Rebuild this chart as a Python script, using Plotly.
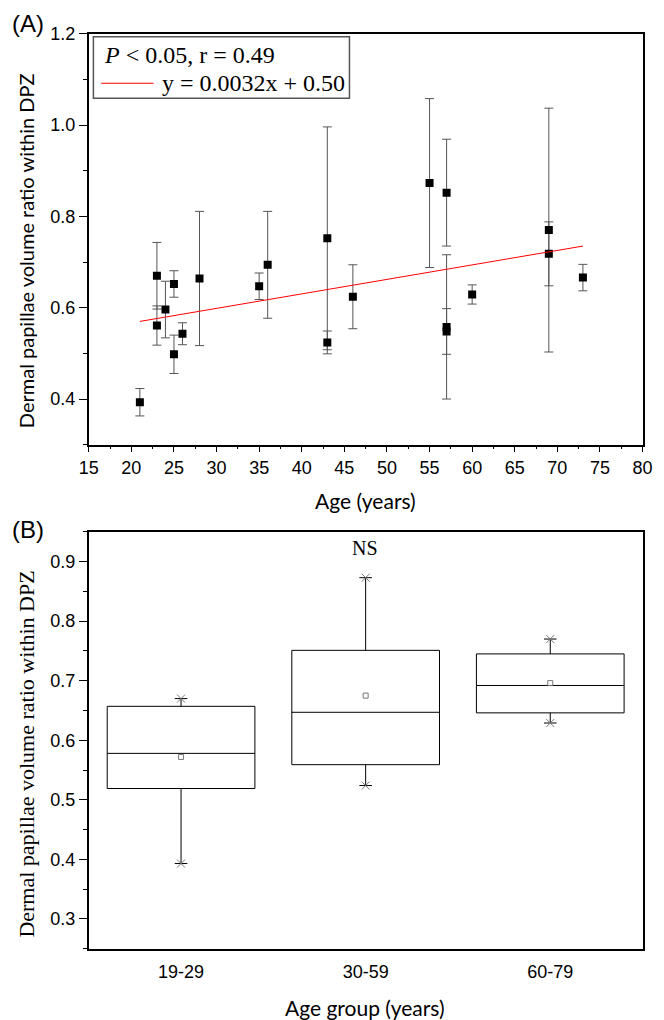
import plotly.graph_objects as go

# ---------------- Data ----------------
ages = [21, 23, 23, 24, 25, 25, 26, 28, 35, 36, 43, 43, 46, 55, 57, 57, 57, 60, 69, 69, 73]
ratios = [0.393, 0.670, 0.561, 0.596, 0.652, 0.498, 0.543, 0.664, 0.647, 0.694,
          0.752, 0.524, 0.624, 0.873, 0.852, 0.558, 0.548, 0.629, 0.770, 0.718, 0.666]
errors = [0.030, 0.073, 0.043, 0.062, 0.029, 0.042, 0.024, 0.147, 0.029, 0.117,
          0.244, 0.025, 0.070, 0.185, 0.117, 0.158, 0.050, 0.021, 0.267, 0.070, 0.029]

fit_x = [21, 73]
fit_y = [0.570, 0.735]

groups = ["19-29", "30-59", "60-79"]
q1 = [0.519, 0.559, 0.646]
median = [0.578, 0.647, 0.692]
q3 = [0.657, 0.751, 0.745]
g_min = [0.393, 0.524, 0.629]
g_max = [0.670, 0.873, 0.770]
g_mean = [0.572, 0.675, 0.696]

W, H = 664, 1020


def px(x):
    return x / W


def py(y):
    return 1 - y / H


SANS = "Lato, Liberation Sans, Arial, sans-serif"
ARIAL = "Liberation Sans, Arial, sans-serif"
SERIF = "Liberation Serif, Times New Roman, serif"

fig = go.Figure()

# ---------------- Panel A ----------------
fig.add_trace(go.Scatter(
    x=ages, y=ratios, mode="markers",
    marker=dict(symbol="square", size=8, color="black"),
    error_y=dict(type="data", array=errors, visible=True, color="#555555",
                 thickness=1, width=4.5),
    xaxis="x", yaxis="y", showlegend=False, hoverinfo="x+y"))

fig.add_trace(go.Scatter(
    x=fit_x, y=fit_y, mode="lines", line=dict(color="red", width=1),
    xaxis="x", yaxis="y", showlegend=False))

# ---------------- Panel B ----------------
fig.add_trace(go.Box(
    x=groups, q1=q1, median=median, q3=q3, lowerfence=g_min, upperfence=g_max,
    fillcolor="white", line=dict(color="black", width=1), width=0.8,
    whiskerwidth=0.085, boxpoints=False, xaxis="x2", yaxis="y2",
    showlegend=False))

fig.add_trace(go.Scatter(
    x=groups, y=g_mean, mode="markers",
    marker=dict(symbol="square-open", size=5, color="#777777",
                line=dict(width=1, color="#777777")),
    xaxis="x2", yaxis="y2", showlegend=False))

fig.add_trace(go.Scatter(
    x=groups + groups, y=g_min + g_max, mode="markers",
    marker=dict(symbol="x-thin-open", size=8, color="#777777",
                line=dict(width=1, color="#777777")),
    xaxis="x2", yaxis="y2", showlegend=False))

xdom = [px(81.2), px(652.2)]

axis_common = dict(showline=True, linecolor="black", linewidth=1.5, mirror=True,
                   showgrid=False, zeroline=False,
                   tickfont=dict(family=ARIAL, size=18, color="black"),
                   ticks="outside", tickcolor="black", tickwidth=1.2)

fig.update_layout(
    width=W, height=H,
    margin=dict(l=0, r=0, t=0, b=0),
    paper_bgcolor="white", plot_bgcolor="white",
    xaxis=dict(domain=xdom, range=[15, 80], dtick=5, tick0=0, ticklen=6,
               minor=dict(dtick=2.5, ticks="outside", ticklen=3, tickcolor="black"),
               anchor="y", **axis_common),
    yaxis=dict(domain=[py(439), py(24)], range=[0.3, 1.2], dtick=0.2, tick0=0,
               tickformat=".1f", ticklen=8,
               minor=dict(dtick=0.1, ticks="outside", ticklen=4, tickcolor="black"),
               anchor="x", **axis_common),
    xaxis2=dict(domain=xdom, type="category", range=[-0.5, 2.5],
                anchor="y2", **{**axis_common, "ticks": "outside",
                                "tickcolor": "rgba(0,0,0,0)", "tickfont": dict(family=ARIAL, size=18, color="black")},
                ticklen=6),
    yaxis2=dict(domain=[py(948), py(527)], range=[0.25, 0.95], dtick=0.1, tick0=0,
                tickformat=".1f", ticklen=8,
                minor=dict(dtick=0.05, ticks="outside", ticklen=4, tickcolor="black"),
                anchor="x2", **axis_common),
)

annotations = [
    dict(text="(A)", x=px(0), y=py(14), xanchor="left", yanchor="middle",
         font=dict(family=ARIAL, size=24, color="black")),
    dict(text="(B)", x=px(0), y=py(525), xanchor="left", yanchor="middle",
         font=dict(family=ARIAL, size=24, color="black")),
    dict(text="Dermal papillae volume ratio within DPZ", x=px(16), y=py(243),
         textangle=-90, xanchor="center", yanchor="middle",
         font=dict(family=SANS, size=20, color="black")),
    dict(text="Age (years)", x=px(367), y=py(495), xanchor="center", yanchor="middle",
         font=dict(family=SANS, size=21, color="black")),
    dict(text="Dermal papillae volume ratio within DPZ", x=px(17.5), y=py(751),
         textangle=-90, xanchor="center", yanchor="middle",
         font=dict(family=SERIF, size=22, color="black")),
    dict(text="Age group (years)", x=px(366), y=py(1007), xanchor="center", yanchor="middle",
         font=dict(family=SANS, size=21, color="black")),
    dict(text="NS", x=px(366), y=py(543), xanchor="center", yanchor="middle",
         font=dict(family=SERIF, size=20, color="black")),
    dict(text="<i>P</i> < 0.05, r = 0.49", x=px(95), y=py(45), xanchor="left", yanchor="middle",
         font=dict(family=SERIF, size=24, color="black")),
    dict(text="y = 0.0032x + 0.50", x=px(155), y=py(74), xanchor="left", yanchor="middle",
         font=dict(family=SERIF, size=24, color="black")),
]
for a in annotations:
    a.update(xref="paper", yref="paper", showarrow=False)
fig.update_layout(annotations=annotations)

fig.update_layout(shapes=[
    dict(type="rect", xref="paper", yref="paper", x0=px(86), x1=px(350), y0=py(89), y1=py(27),
         line=dict(color="#555555", width=1.5), fillcolor="rgba(255,255,255,0)"),
    dict(type="line", xref="paper", yref="paper", x0=px(94), x1=px(148), y0=py(74), y1=py(74),
         line=dict(color="red", width=1)),
])

fig.write_html("out.html", config={"displayModeBar": False},
               post_script="document.body.style.margin='0';document.body.style.overflow='hidden';")
